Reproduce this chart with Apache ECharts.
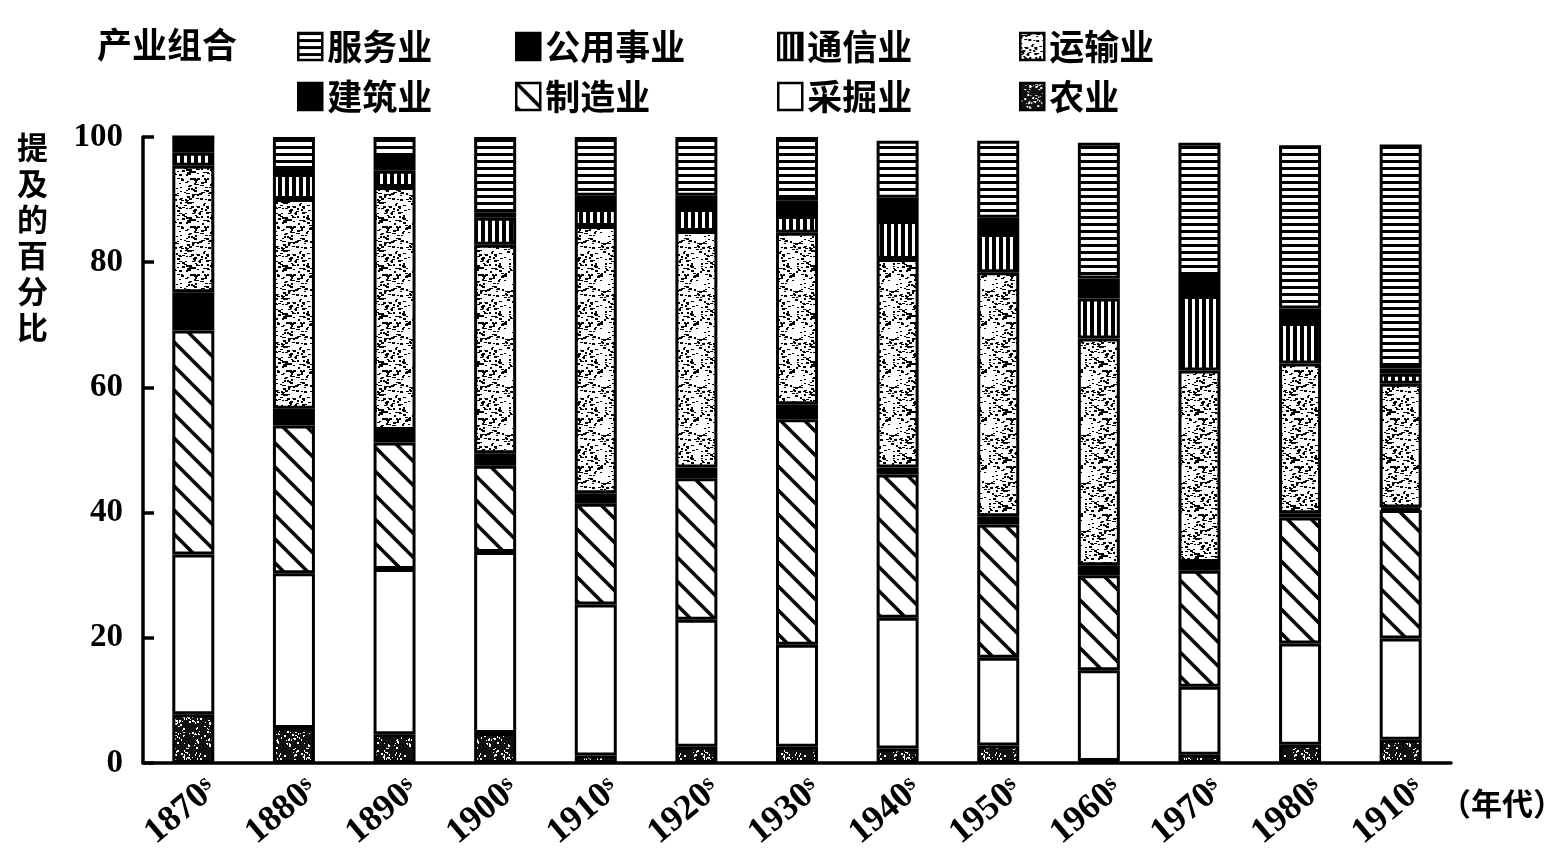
<!DOCTYPE html>
<html>
<head>
<meta charset="utf-8">
<script src="https://cdn.jsdelivr.net/npm/echarts@6/dist/echarts.min.js"></script>
<style>
  html, body { margin: 0; padding: 0; background: #fff; }
  #main { width: 1564px; height: 860px; }
</style>
</head>
<body>
<div id="main"></div>
<script>
  // 年代（最后一个标签原图即为 1910s）
  const decades = ['1870s', '1880s', '1890s', '1900s', '1910s', '1920s', '1930s',
                   '1940s', '1950s', '1960s', '1970s', '1980s', '1910s'];

  // 各产业所占百分比，从下往上堆叠
  const agriculture   = [7.8, 5.6, 4.6, 4.8, 1.2, 2.6, 2.6, 2.3, 2.8, 0.3, 1.3, 2.9, 3.7];
  const mining        = [25.5, 24.7, 26.4, 28.9, 24.1, 20.3, 16.3, 20.9, 14.0, 14.5, 10.9, 16.2, 16.2];
  const manufacturing = [35.8, 23.6, 20.2, 13.8, 16.1, 22.6, 36.0, 22.9, 21.3, 15.2, 18.5, 20.1, 20.5];
  const construction  = [6.1, 2.7, 2.0, 2.0, 1.7, 1.7, 2.4, 1.1, 1.3, 1.6, 1.4, 0.7, 0.4];
  const transport     = [20.2, 33.5, 38.8, 33.3, 42.7, 37.8, 27.4, 33.3, 39.0, 36.2, 30.6, 23.9, 19.8];
  const telecom       = [2.1, 4.0, 2.6, 4.3, 2.7, 3.5, 2.7, 6.1, 6.1, 6.4, 11.9, 6.5, 1.6];
  const utilities     = [2.5, 0.8, 1.9, 0.8, 2.1, 2.1, 2.4, 3.7, 2.6, 3.2, 3.2, 2.3, 0.8];
  const services      = [0, 5.1, 3.5, 12.1, 9.4, 9.4, 10.2, 9.1, 12.3, 21.7, 21.3, 26.1, 35.8];

  const yTicks = [0, 20, 40, 60, 80, 100];

  // ---- 填充图案 ----
  function makeTile(w, h, draw) {
    const c = document.createElement('canvas');
    c.width = w; c.height = h;
    draw(c.getContext('2d'));
    return { image: c, repeat: 'repeat' };
  }
  let seed = 12345;
  function rnd() { seed = (seed * 16807) % 2147483647; return seed / 2147483647; }

  const hLines = makeTile(8, 7, ctx => {
    ctx.fillStyle = '#000'; ctx.fillRect(0, 0, 8, 7);
    ctx.fillStyle = '#fff'; ctx.fillRect(0, 2, 8, 4);
  });
  const vLines = makeTile(7, 8, ctx => {
    ctx.fillStyle = '#000'; ctx.fillRect(0, 0, 7, 8);
    ctx.fillStyle = '#fff'; ctx.fillRect(2, 0, 3, 8);
  });
  const hatch = makeTile(24, 24, ctx => {
    ctx.fillStyle = '#fff'; ctx.fillRect(0, 0, 24, 24);
    ctx.strokeStyle = '#000'; ctx.lineWidth = 3.5;
    [-24, 0, 24].forEach(x0 => {
      ctx.beginPath(); ctx.moveTo(x0 - 2, -2); ctx.lineTo(x0 + 26, 26); ctx.stroke();
    });
  });
  // 运输业：白底黑色碎点
  const lightDots = makeTile(48, 48, ctx => {
    ctx.fillStyle = '#fff'; ctx.fillRect(0, 0, 48, 48);
    ctx.fillStyle = '#000';
    for (let i = 0; i < 175; i++) {
      const x = Math.floor(rnd() * 48), y = Math.floor(rnd() * 48);
      const w = 2 + Math.floor(rnd() * 2), h = 1 + Math.floor(rnd() * 2);
      ctx.fillRect(x, y, w, h);
      if (x + w > 48) ctx.fillRect(x - 48, y, w, h);
      if (y + h > 48) ctx.fillRect(x, y - 48, w, h);
    }
  });
  // 农业：黑底白色碎点
  const darkDots = makeTile(40, 40, ctx => {
    ctx.fillStyle = '#111'; ctx.fillRect(0, 0, 40, 40);
    ctx.fillStyle = '#fff';
    for (let i = 0; i < 110; i++) {
      const x = Math.floor(rnd() * 40), y = Math.floor(rnd() * 40);
      const w = 1 + Math.floor(rnd() * 2), h = 1 + Math.floor(rnd() * 2);
      ctx.fillRect(x, y, w, h);
    }
  });

  const seriesDefs = [
    { name: '农业', data: agriculture, color: darkDots },
    { name: '采掘业', data: mining, color: '#fff' },
    { name: '制造业', data: manufacturing, color: hatch },
    { name: '建筑业', data: construction, color: '#000' },
    { name: '运输业', data: transport, color: lightDots },
    { name: '通信业', data: telecom, color: vLines },
    { name: '公用事业', data: utilities, color: '#000' },
    { name: '服务业', data: services, color: hLines }
  ];

  const cjk = '"Noto Sans CJK SC", sans-serif';
  const serif = '"Liberation Serif", "DejaVu Serif", serif';

  // 图例按列排：每列两项
  const legendCols = [
    { left: 292, data: ['服务业', '建筑业'] },
    { left: 510, data: ['公用事业', '制造业'] },
    { left: 772, data: ['通信业', '采掘业'] },
    { left: 1014, data: ['运输业', '农业'] }
  ];

  const chart = echarts.init(document.getElementById('main'));
  chart.setOption({
    animation: false,
    backgroundColor: '#fff',
    title: [
      { text: '产业组合', left: 92, top: 22,
        textStyle: { fontFamily: cjk, fontSize: 35, fontWeight: 'bold', color: '#000' } },
      { text: '提\n及\n的\n百\n分\n比', left: 12, top: 124,
        textStyle: { fontFamily: cjk, fontSize: 31, fontWeight: 'bold', color: '#000', lineHeight: 36 } }
    ],
    legend: legendCols.map(col => ({
      orient: 'vertical',
      left: col.left,
      top: 24,
      itemWidth: 24,
      itemHeight: 27,
      itemGap: 15,
      icon: 'rect',
      data: col.data,
      selectedMode: false,
      itemStyle: { borderColor: '#000', borderWidth: 2.5 },
      textStyle: { fontFamily: cjk, fontSize: 35, fontWeight: 'bold', color: '#000' }
    })),
    graphic: [
      { type: 'text', left: 1440, top: 788,
        style: { text: '（年代）', font: 'bold 31px "Noto Sans CJK SC"', fill: '#000' } }
    ],
    grid: { left: 143, right: 113, top: 137, bottom: 97 },
    xAxis: {
      type: 'category',
      data: decades,
      axisLine: { lineStyle: { color: '#000', width: 3.5 } },
      axisTick: { inside: true, length: 11, lineStyle: { color: '#000', width: 4 } },
      axisLabel: {
        rotate: 40,
        align: 'center',
        verticalAlign: 'middle',
        margin: 38,
        padding: [0, 32, 0, 0],
        formatter: v => '{y|' + v.slice(0, 4) + '}{s|s}',
        rich: {
          y: { fontFamily: serif, fontSize: 36, fontWeight: 'bold', color: '#000' },
          s: { fontFamily: serif, fontSize: 24, fontWeight: 'bold', color: '#000', verticalAlign: 'top' }
        }
      }
    },
    yAxis: {
      type: 'value',
      min: yTicks[0],
      max: yTicks[yTicks.length - 1],
      interval: 20,
      splitLine: { show: false },
      axisLine: { show: true, lineStyle: { color: '#000', width: 3.5 } },
      axisTick: { show: true, inside: true, length: 11, lineStyle: { color: '#000', width: 3.5 } },
      axisLabel: { fontFamily: serif, fontSize: 33, fontWeight: 'bold', color: '#000', margin: 20 }
    },
    series: seriesDefs.map(s => ({
      name: s.name,
      type: 'bar',
      stack: 'total',
      barWidth: 42,
      data: s.data,
      itemStyle: { color: s.color, borderColor: '#000', borderWidth: 3 }
    }))
  });
</script>
</body>
</html>
